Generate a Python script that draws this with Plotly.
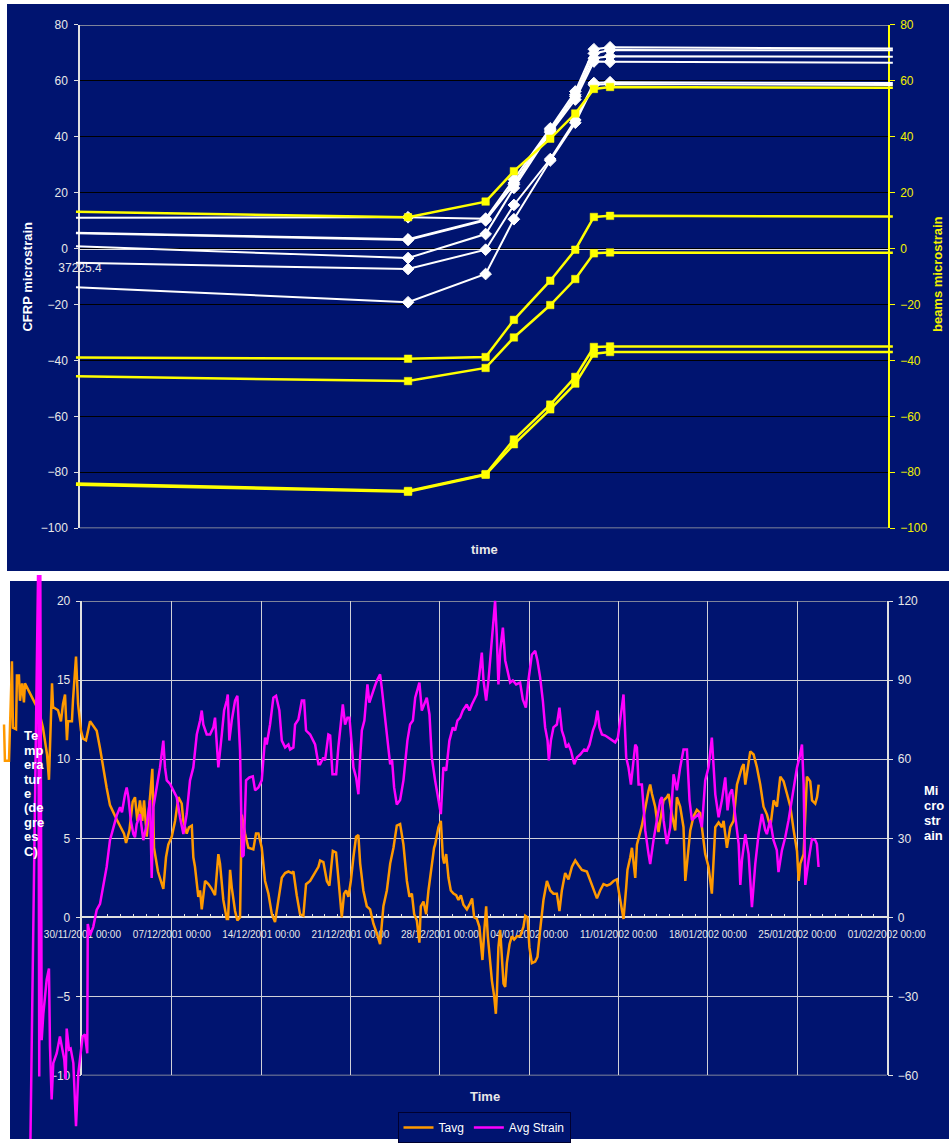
import pandas as pd
import plotly.graph_objects as go

W, H = 949, 1143
NAVY = "#001470"
FONT = "Arial, 'Liberation Sans', sans-serif"

# ---------------- top chart data ----------------
top_time = [37225.395, 37225.806, 37225.902, 37225.937, 37225.982,
            37226.013, 37226.036, 37226.056, 37226.406]
cfrp_a = [11.0, 11.2, 10.7, 24.7, 43.0, 56.2, 71.3, 72.0, 71.6]
cfrp_b = [5.7, 3.3, 10.4, 23.5, 42.5, 55.0, 69.8, 71.0, 70.9]
cfrp_c = [5.5, 3.1, 10.1, 22.9, 42.0, 54.4, 68.1, 68.8, 68.6]
cfrp_d = [0.8, -3.4, 5.2, 21.7, 41.5, 53.3, 66.9, 66.8, 66.5]
cfrp_e = [-5.1, -7.3, -0.4, 15.6, 32.0, 46.0, 59.2, 59.5, 59.2]
cfrp_f = [-13.8, -19.2, -9.1, 10.5, 31.5, 45.0, 58.6, 58.9, 58.5]
beam_1 = [13.2, 11.2, 16.8, 27.7, 39.3, 48.3, 57.1, 57.8, 57.5]
beam_2 = [-39.0, -39.4, -38.8, -25.5, -11.5, -0.4, 11.3, 11.7, 11.5]
beam_3 = [-45.7, -47.4, -42.7, -31.8, -20.2, -10.9, -1.7, -1.4, -1.5]
beam_4 = [-84.0, -86.7, -80.7, -68.3, -55.8, -45.9, -35.2, -35.0, -35.0]
beam_5 = [-84.5, -87.0, -80.9, -70.0, -57.5, -48.3, -37.6, -37.0, -37.0]
top_tick_label = "37225.4"

# ---------------- bottom chart data (days after 30/11/2001 00:00, value) ----------------
start_date = "2001-11-30"
tavg_points = [
    (-6.14, 12.2), (-6.07, 9.9), (-5.75, 9.9), (-5.52, 16.2), (-5.44, 12.0), (-5.20, 11.9),
    (-5.13, 15.3), (-4.97, 15.3), (-4.89, 13.7), (-4.73, 14.8), (-4.58, 13.6), (-4.50, 14.8),
    (-3.56, 13.3), (-3.32, 12.8), (-3.09, 12.0), (-2.77, 10.3), (-2.62, 8.7), (-2.38, 14.8),
    (-2.30, 13.3), (-1.91, 13.1), (-1.68, 12.4), (-1.52, 13.5), (-1.36, 14.1), (-1.21, 11.2),
    (-1.13, 12.4), (-0.82, 12.4), (-0.74, 13.7), (-0.50, 16.5), (-0.34, 13.5), (-0.11, 11.8),
    (0.05, 11.3), (0.28, 11.2), (0.60, 12.4), (0.85, 12.1), (1.12, 11.8), (1.38, 10.7),
    (1.64, 9.3), (1.90, 8.2), (2.16, 7.1), (2.48, 6.5), (2.74, 6.1), (3.00, 5.7), (3.26, 5.3),
    (3.42, 4.7), (3.68, 5.5), (3.94, 7.3), (4.12, 7.6), (4.30, 6.1), (4.51, 7.4), (4.69, 6.1),
    (4.83, 7.4), (5.04, 5.1), (5.22, 6.8), (5.48, 9.4), (5.61, 4.4), (5.92, 2.9), (6.34, 1.8),
    (6.55, 3.8), (6.73, 4.6), (7.00, 5.1), (7.26, 6.1), (7.52, 7.6), (7.78, 7.2), (7.91, 6.1),
    (8.17, 5.3), (8.35, 5.7), (8.57, 5.8), (8.69, 3.8), (8.82, 3.2), (9.08, 1.3), (9.22, 1.7),
    (9.35, 0.5), (9.61, 2.3), (9.87, 2.1), (10.13, 1.8), (10.39, 1.4), (10.65, 4.0), (10.78, 3.4),
    (11.04, 1.1), (11.31, -0.1), (11.41, -0.1), (11.57, 3.0), (11.70, 1.9), (11.96, 0.4),
    (12.14, -0.2), (12.35, 0.0), (12.48, 6.5), (12.74, 5.3), (13.00, 4.4), (13.39, 4.3),
    (13.60, 5.3), (13.79, 5.3), (14.05, 4.4), (14.31, 2.3), (14.57, 1.5), (14.84, 0.2),
    (15.09, -0.3), (15.35, 1.1), (15.62, 2.5), (15.88, 2.8), (16.14, 2.9), (16.40, 2.8),
    (16.53, 2.9), (16.79, 1.4), (17.05, 0.2), (17.31, 0.1), (17.52, 2.1), (17.84, 2.3),
    (18.23, 2.8), (18.49, 3.2), (18.62, 3.6), (18.88, 3.5), (19.15, 2.3), (19.35, 2.0),
    (19.62, 4.2), (19.87, 4.1), (20.05, 2.5), (20.32, 0.0), (20.50, 1.5), (20.66, 1.7),
    (20.84, 1.3), (21.03, 2.3), (21.23, 3.8), (21.44, 5.1), (21.62, 5.2), (21.76, 3.4),
    (22.01, 1.7), (22.28, 0.7), (22.54, 0.5), (22.80, -0.4), (23.06, -1.0), (23.32, -1.7),
    (23.58, 0.7), (23.85, 1.7), (24.11, 3.4), (24.37, 4.4), (24.63, 5.8), (24.89, 5.9),
    (25.15, 4.6), (25.42, 2.3), (25.62, 1.3), (25.81, 1.5), (25.99, 0.2), (26.20, -0.2),
    (26.40, -1.6), (26.51, 0.7), (26.72, 1.0), (26.93, 0.2), (27.11, 1.7), (27.37, 3.4),
    (27.55, 4.4), (27.63, 4.6), (27.89, 5.7), (28.08, 6.1), (28.24, 3.8), (28.34, 3.4),
    (28.50, 4.0), (28.68, 2.5), (28.86, 1.7), (29.07, 1.5), (29.28, 1.4), (29.46, 1.1),
    (29.65, 1.4), (29.85, 0.8), (30.12, 0.5), (30.32, 0.8), (30.53, 1.2), (30.69, 0.0),
    (30.90, -0.1), (31.10, -0.6), (31.24, -1.7), (31.34, -2.7), (31.47, -1.0), (31.63, 0.7),
    (31.76, -1.2), (31.94, -2.7), (32.08, -4.0), (32.26, -5.0), (32.39, -6.1), (32.47, -4.8),
    (32.59, -1.9), (32.73, -0.8), (32.86, -2.9), (32.99, -4.2), (33.12, -4.4), (33.25, -2.9),
    (33.46, -1.7), (33.64, -1.2), (33.82, -1.4), (34.04, -1.2), (34.29, -1.2), (34.55, -0.6),
    (34.69, 0.1), (34.87, 0.0), (35.02, -1.9), (35.21, -2.9), (35.47, -2.8), (35.65, -2.5),
    (35.86, -0.8), (36.12, 1.1), (36.39, 2.3), (36.65, 1.7), (36.90, 1.5), (37.17, 1.5),
    (37.37, 0.4), (37.56, 1.7), (37.82, 2.8), (38.08, 2.4), (38.35, 3.2), (38.61, 3.6),
    (38.86, 3.3), (39.13, 3.0), (39.52, 2.9), (39.78, 2.3), (40.04, 1.7), (40.31, 1.2),
    (40.56, 1.7), (40.82, 2.1), (41.09, 2.0), (41.35, 2.1), (41.61, 2.3), (41.87, 2.4),
    (42.05, 1.5), (42.26, 0.4), (42.39, -0.1), (42.60, 1.9), (42.70, 3.0), (42.92, 3.8),
    (43.05, 4.4), (43.31, 2.5), (43.44, 4.6), (43.83, 5.8), (44.09, 7.0), (44.35, 8.0),
    (44.48, 8.4), (44.62, 7.8), (44.87, 7.0), (45.13, 5.4), (45.40, 6.8), (45.53, 7.4),
    (45.79, 7.6), (45.92, 7.8), (46.18, 6.5), (46.44, 5.5), (46.57, 7.6), (46.83, 7.0),
    (47.09, 5.7), (47.23, 2.3), (47.62, 5.5), (47.75, 5.9), (47.88, 6.4), (48.14, 6.8),
    (48.40, 6.6), (48.53, 5.7), (48.79, 4.0), (49.05, 3.2), (49.31, 1.5), (49.58, 5.7),
    (49.84, 6.0), (50.10, 5.7), (50.23, 6.1), (50.49, 4.4), (50.75, 5.7), (51.01, 6.1),
    (51.28, 8.4), (51.67, 9.5), (51.80, 9.7), (51.93, 8.4), (52.06, 9.1), (52.32, 10.5),
    (52.58, 10.3), (52.84, 9.5), (53.10, 8.4), (53.36, 7.0), (53.63, 6.5), (53.89, 5.7),
    (54.15, 7.4), (54.41, 7.0), (54.67, 8.9), (54.93, 8.6), (55.20, 7.8), (55.46, 7.0),
    (55.72, 5.5), (55.98, 4.2), (56.11, 2.3), (56.24, 3.4), (56.50, 4.0), (56.76, 8.9),
    (57.02, 8.6), (57.16, 7.4), (57.41, 7.2), (57.55, 7.6), (57.68, 8.4),
]
strain_points = [
    (-4.10, -95.0), (-3.46, 135.0), (-3.38, -60.4), (-3.30, 135.0), (-3.19, -46.6),
    (-3.06, -36.6), (-2.80, -23.7), (-2.62, -19.4), (-2.54, -48.9), (-2.41, -69.1),
    (-2.28, -55.3), (-2.01, -51.6), (-1.76, -45.2), (-1.62, -48.9), (-1.42, -54.0),
    (-1.31, -61.5), (-1.23, -42.2), (-1.05, -50.2), (-0.92, -49.8), (-0.71, -55.3),
    (-0.50, -79.3), (-0.32, -59.2), (-0.13, -50.2), (0.02, -45.2), (0.20, -44.4),
    (0.38, -51.6), (0.42, -2.5), (0.60, -6.8), (0.85, -3.6), (1.12, 2.8), (1.38, 5.1),
    (1.64, 11.5), (1.90, 19.1), (2.16, 29.3), (2.42, 34.2), (2.69, 38.7), (2.95, 41.8),
    (3.10, 39.9), (3.34, 46.7), (3.47, 49.3), (3.60, 45.6), (3.79, 36.9), (3.99, 31.6),
    (4.12, 30.4), (4.25, 35.3), (4.51, 39.2), (4.77, 29.3), (5.04, 35.3), (5.30, 44.5),
    (5.43, 14.9), (5.56, 41.8), (5.82, 49.3), (6.08, 56.9), (6.34, 67.1), (6.47, 56.9),
    (6.61, 52.0), (6.87, 50.6), (7.12, 48.2), (7.39, 45.6), (7.65, 38.0), (7.91, 31.6),
    (8.17, 39.2), (8.43, 52.0), (8.69, 56.9), (8.96, 69.4), (9.22, 74.7), (9.35, 78.5),
    (9.47, 73.2), (9.74, 69.4), (10.00, 69.4), (10.26, 72.1), (10.39, 75.8), (10.65, 56.9),
    (10.92, 69.4), (11.10, 78.5), (11.31, 82.3), (11.39, 84.6), (11.51, 67.1), (11.70, 74.7),
    (11.96, 82.3), (12.14, 84.1), (12.35, 63.3), (12.51, 22.9), (12.63, 23.6), (12.82, 52.0),
    (13.08, 53.1), (13.35, 53.5), (13.53, 48.2), (13.79, 49.3), (14.05, 52.0), (14.31, 68.2),
    (14.44, 65.6), (14.70, 73.2), (14.96, 83.4), (15.17, 84.1), (15.43, 78.5), (15.62, 67.1),
    (15.88, 64.5), (16.14, 65.6), (16.27, 63.7), (16.53, 64.5), (16.66, 73.2), (16.92, 75.1),
    (17.19, 82.3), (17.37, 82.3), (17.52, 70.9), (17.84, 69.4), (18.23, 65.6), (18.49, 58.1),
    (18.62, 58.1), (18.88, 60.7), (19.01, 59.6), (19.27, 69.4), (19.41, 69.0), (19.59, 54.3),
    (19.88, 54.3), (20.05, 64.5), (20.40, 80.8), (20.58, 73.2), (20.76, 75.8), (20.92, 75.8),
    (21.10, 65.6), (21.23, 56.9), (21.44, 53.1), (21.62, 46.7), (21.76, 60.7), (21.89, 70.9),
    (22.09, 74.7), (22.33, 88.4), (22.48, 81.5), (22.67, 84.6), (22.93, 88.0), (23.11, 90.3),
    (23.32, 92.2), (23.45, 87.2), (23.64, 78.5), (23.85, 69.4), (24.11, 58.1), (24.26, 59.6),
    (24.42, 49.3), (24.63, 42.8), (24.89, 44.5), (25.15, 52.0), (25.46, 67.1), (25.67, 73.2),
    (25.89, 74.7), (26.07, 83.4), (26.40, 89.1), (26.59, 78.5), (26.77, 80.8), (26.98, 83.4),
    (27.19, 77.0), (27.37, 60.7), (27.63, 52.0), (27.89, 44.5), (28.08, 39.2), (28.28, 56.9),
    (28.50, 55.7), (28.75, 67.1), (29.02, 72.1), (29.20, 70.9), (29.38, 74.7), (29.59, 75.8),
    (29.80, 78.5), (30.11, 80.8), (30.32, 78.5), (30.51, 80.8), (30.69, 82.7), (30.90, 84.6),
    (31.10, 92.2), (31.29, 100.5), (31.42, 89.9), (31.63, 82.3), (31.81, 89.9), (32.00, 100.5),
    (32.15, 110.0), (32.33, 120.1), (32.46, 107.2), (32.59, 88.4), (32.73, 101.2), (32.94, 110.0),
    (33.12, 97.6), (33.38, 91.2), (33.51, 89.1), (33.72, 89.9), (33.98, 88.4), (34.29, 89.1),
    (34.50, 82.7), (34.74, 79.6), (34.94, 89.9), (35.21, 99.7), (35.47, 101.2), (35.65, 97.4),
    (35.86, 91.0), (36.07, 82.3), (36.25, 72.1), (36.44, 67.1), (36.54, 59.6), (36.70, 67.1),
    (36.90, 72.1), (37.17, 73.2), (37.37, 79.6), (37.56, 70.9), (37.74, 68.2), (37.90, 64.5),
    (38.08, 65.6), (38.27, 63.3), (38.53, 58.1), (38.74, 60.7), (39.00, 61.8), (39.31, 63.7),
    (39.52, 63.3), (39.73, 65.6), (39.99, 70.9), (40.17, 73.2), (40.35, 78.5), (40.51, 72.1),
    (40.70, 69.4), (40.96, 69.0), (41.22, 68.2), (41.48, 67.1), (41.74, 66.4), (41.95, 68.2),
    (42.13, 74.7), (42.26, 79.6), (42.39, 84.6), (42.60, 60.7), (42.78, 56.9), (42.97, 50.4),
    (43.17, 60.7), (43.31, 65.6), (43.44, 64.5), (43.57, 50.4), (43.83, 50.4), (44.09, 33.1),
    (44.35, 24.0), (44.48, 20.2), (44.74, 29.3), (45.01, 36.9), (45.27, 44.5), (45.40, 45.6),
    (45.53, 36.9), (45.79, 27.8), (46.05, 34.2), (46.31, 54.3), (46.57, 48.2), (46.83, 56.9),
    (47.09, 63.7), (47.36, 63.7), (47.56, 44.5), (47.75, 36.9), (48.01, 38.0), (48.27, 39.2),
    (48.53, 34.2), (48.79, 52.0), (49.05, 56.9), (49.31, 68.2), (49.58, 46.7), (49.84, 38.0),
    (50.10, 44.5), (50.36, 53.1), (50.54, 40.6), (50.70, 46.7), (50.89, 48.6), (51.15, 38.0),
    (51.41, 27.8), (51.54, 12.3), (51.67, 21.7), (51.93, 31.6), (52.19, 24.0), (52.45, 3.9),
    (52.71, 20.2), (52.97, 31.6), (53.23, 39.2), (53.49, 33.1), (53.62, 31.6), (53.88, 36.9),
    (54.14, 29.3), (54.40, 25.5), (54.53, 17.2), (54.80, 25.5), (55.06, 30.4), (55.32, 36.9),
    (55.58, 44.5), (55.77, 50.5), (55.98, 56.9), (56.18, 60.7), (56.37, 65.6), (56.50, 50.5),
    (56.63, 12.3), (56.89, 21.7), (57.15, 29.7), (57.41, 29.3), (57.54, 27.8), (57.67, 19.1),
]
temp_title_lines = ["Te", "mp", "era", "tur", "e", "(de", "gre", "es", "C)"]
strain_title_lines = ["Mi", "cro", "str", "ain"]

# ---------------- geometry helpers ----------------
def fx(p):
    return p / W


def fy(p):
    return 1 - p / H


def extend(r0, r1, a0, a1, b0, b1):
    s = (r1 - r0) / (a1 - a0)
    return [r0 - (a0 - b0) * s, r1 + (b1 - a1) * s]


# top plot area
T_X = [fx(80), fx(888)]
T_Y = [fy(530), fy(25)]
T_XR = [37225.4, 37226.4]
T_YR = [-100, 80]
T_OX = [fx(70), fx(900)]
top_zero_pos = T_Y[0] + (0 - T_YR[0]) / (T_YR[1] - T_YR[0]) * (T_Y[1] - T_Y[0])

# bottom plot area
B_X = [fx(82.4), fx(886.6)]
B_Y = [fy(1079.2), fy(603.3)]
B_DR = [0, 63]
B_TR = [-10, 20]
B_SR = [-60, 120]
B_OX = [0, 1]
B_OY = [0, fy(577)]
bot_zero_pos = B_Y[0] + (0 - B_TR[0]) / (B_TR[1] - B_TR[0]) * (B_Y[1] - B_Y[0])

tavg_day = [p[0] for p in tavg_points]
tavg_val = [p[1] for p in tavg_points]
strain_day = [p[0] for p in strain_points]
strain_val = [p[1] for p in strain_points]

fig = go.Figure()

# anchors for axis-only subplots
fig.add_trace(go.Scatter(x=[], y=[], xaxis="x", yaxis="y", showlegend=False, hoverinfo="skip"))
fig.add_trace(go.Scatter(x=[], y=[], xaxis="x", yaxis="y2", showlegend=False, hoverinfo="skip"))
fig.add_trace(go.Scatter(x=[], y=[], xaxis="x3", yaxis="y4", showlegend=False, hoverinfo="skip"))
fig.add_trace(go.Scatter(x=[], y=[], xaxis="x3", yaxis="y5", showlegend=False, hoverinfo="skip"))

msize_w = [0] + [9] * (len(top_time) - 2) + [0]
msize_y = [0] + [7.5] * (len(top_time) - 2) + [0]
for s in [cfrp_a, cfrp_b, cfrp_c, cfrp_d, cfrp_e, cfrp_f]:
    fig.add_trace(go.Scatter(
        x=top_time, y=s, xaxis="x2", yaxis="y3", mode="lines+markers",
        line=dict(color="#FFFFFF", width=2),
        marker=dict(symbol="diamond", size=msize_w, color="#FFFFFF", opacity=1,
                    line=dict(width=1, color="#FFFFFF")),
        showlegend=False, hoverinfo="skip"))
for s in [beam_1, beam_2, beam_3, beam_4, beam_5]:
    fig.add_trace(go.Scatter(
        x=top_time, y=s, xaxis="x2", yaxis="y3", mode="lines+markers",
        line=dict(color="#FFFF00", width=2.5),
        marker=dict(symbol="square", size=msize_y, color="#FFFF00", opacity=1,
                    line=dict(width=0.5, color="#FFFF00")),
        showlegend=False, hoverinfo="skip"))

fig.add_trace(go.Scatter(x=tavg_day, y=tavg_val, xaxis="x4", yaxis="y6", mode="lines",
                         line=dict(color="#FF9900", width=2.5), name="Tavg"))
fig.add_trace(go.Scatter(x=strain_day, y=strain_val, xaxis="x4", yaxis="y7", mode="lines",
                         line=dict(color="#FF00FF", width=2.5), name="Avg Strain"))

axis_font = dict(family=FONT, size=12, color="#E8E8E8")
yellow_font = dict(family=FONT, size=12, color="#F2F200")

start_ts = pd.Timestamp(start_date)
end_ts = start_ts + pd.Timedelta(days=B_DR[1])

fig.update_layout(
    template="none",
    width=W, height=H, margin=dict(l=0, r=0, t=0, b=0, pad=0), autosize=False,
    paper_bgcolor="#FFFFFF", plot_bgcolor="rgba(0,0,0,0)",
    font=dict(family=FONT, color="#FFFFFF"),
    # ---- top chart axes ----
    xaxis=dict(domain=T_X, range=T_XR, anchor="free", position=top_zero_pos, automargin=False,
               showline=True, linecolor="#E0E0E0", linewidth=1, showgrid=False, zeroline=False,
               tickmode="array", tickvals=[T_XR[0]], ticktext=[top_tick_label], ticks="",
               tickfont=axis_font, ticklabelstandoff=8),
    yaxis=dict(domain=T_Y, range=T_YR, anchor="x", dtick=20, tick0=0, automargin=False,
               showgrid=True, gridcolor="#000000", gridwidth=1, zeroline=False,
               showline=True, linecolor="#E0E0E0", linewidth=1.5,
               ticks="outside", ticklen=4, tickcolor="#E0E0E0",
               tickfont=axis_font, ticklabelstandoff=4),
    yaxis2=dict(overlaying="y", side="right", anchor="x", range=T_YR, dtick=20, tick0=0,
                automargin=False,
                showgrid=False, zeroline=False, showline=True, linecolor="#FFFF00", linewidth=1.5,
                ticks="outside", ticklen=5, tickcolor="#FFFF00", tickfont=yellow_font,
                ticklabelstandoff=3),
    xaxis2=dict(domain=T_OX, range=extend(T_XR[0], T_XR[1], T_X[0], T_X[1], T_OX[0], T_OX[1]),
                anchor="y3", visible=False, automargin=False),
    yaxis3=dict(domain=T_Y, range=T_YR, anchor="x2", visible=False, automargin=False),
    # ---- bottom chart axes ----
    xaxis3=dict(type="date", domain=B_X, range=[start_ts, end_ts], anchor="free",
                position=bot_zero_pos, automargin=False,
                showline=True, linecolor="#E0E0E0", linewidth=1.5,
                showgrid=True, gridcolor="#D0D0D8", gridwidth=1, zeroline=False,
                tick0=start_date, dtick=7 * 86400000, tickformat="%d/%m/%Y %H:%M",
                ticks="inside", ticklen=3, tickcolor="#E0E0E0",
                tickfont=dict(family=FONT, size=10, color="#E8E8E8"), ticklabelstandoff=8,
                minor=dict(dtick=86400000, ticks="inside", ticklen=3, tickcolor="#E0E0E0",
                           showgrid=False)),
    yaxis4=dict(domain=B_Y, range=B_TR, anchor="x3", dtick=5, tick0=0, automargin=False,
                showgrid=True, gridcolor="#D0D0D8", gridwidth=1, zeroline=False,
                showline=True, linecolor="#E0E0E0", linewidth=1.5,
                ticks="outside", ticklen=5, tickcolor="#E0E0E0",
                tickfont=axis_font, ticklabelstandoff=3),
    yaxis5=dict(overlaying="y4", side="right", anchor="x3", range=B_SR, dtick=30, tick0=0,
                automargin=False,
                showgrid=False, zeroline=False, showline=True, linecolor="#E0E0E0", linewidth=1.5,
                ticks="outside", ticklen=5, tickcolor="#E0E0E0", tickfont=axis_font,
                ticklabelstandoff=2),
    xaxis4=dict(domain=B_OX, range=extend(B_DR[0], B_DR[1], B_X[0], B_X[1], B_OX[0], B_OX[1]),
                anchor="y6", visible=False, automargin=False),
    yaxis6=dict(domain=B_OY, range=extend(B_TR[0], B_TR[1], B_Y[0], B_Y[1], B_OY[0], B_OY[1]),
                anchor="x4", visible=False, automargin=False),
    yaxis7=dict(overlaying="y6", anchor="x4", automargin=False,
                range=extend(B_SR[0], B_SR[1], B_Y[0], B_Y[1], B_OY[0], B_OY[1]), visible=False),
    legend=dict(orientation="h", x=fx(484), xanchor="center", y=fy(1131.5), yanchor="middle",
                bgcolor=NAVY, bordercolor="#000030", borderwidth=1,
                font=dict(family=FONT, size=12, color="#FFFFFF"), itemwidth=30),
)

shapes = [
    dict(type="rect", xref="paper", yref="paper", x0=fx(7), x1=1, y0=fy(573), y1=fy(4),
         fillcolor=NAVY, line=dict(width=0), layer="below"),
    dict(type="rect", xref="paper", yref="paper", x0=fx(10), x1=1, y0=0, y1=fy(583),
         fillcolor=NAVY, line=dict(width=0), layer="below"),
]
for yv in T_YR:
    shapes.append(dict(type="line", xref="x domain", yref="y", x0=0, x1=1, y0=yv, y1=yv,
                       line=dict(color="#A8A8A8", width=1.5), layer="below"))
for yv in B_TR:
    shapes.append(dict(type="line", xref="x3 domain", yref="y4", x0=0, x1=1, y0=yv, y1=yv,
                       line=dict(color="#A8A8A8", width=1.5), layer="below"))
fig.update_layout(shapes=shapes)

ann = [
    dict(text="<b>CFRP microstrain</b>", x=fx(28), y=fy(277.5), textangle=-90,
         font=dict(family=FONT, size=13, color="#FFFFFF")),
    dict(text="<b>beams microstrain</b>", x=fx(937), y=fy(275), textangle=-90,
         font=dict(family=FONT, size=13, color="#F2F200")),
    dict(text="<b>time</b>", x=fx(484), y=fy(551),
         font=dict(family=FONT, size=13, color="#E8E8E8")),
    dict(text="<b>Time</b>", x=fx(484.5), y=fy(1100.5),
         font=dict(family=FONT, size=13, color="#E8E8E8")),
]
for i, t in enumerate(temp_title_lines):
    ann.append(dict(text="<b>" + t + "</b>", x=fx(22), xanchor="left", y=fy(738.3 + 14.5 * i),
                    font=dict(family=FONT, size=13, color="#FFFFFF")))
for i, t in enumerate(strain_title_lines):
    ann.append(dict(text="<b>" + t + "</b>", x=fx(921.5), xanchor="left", y=fy(793.3 + 15 * i),
                    font=dict(family=FONT, size=13, color="#FFFFFF")))
for a in ann:
    a.update(xref="paper", yref="paper", showarrow=False)
    a.setdefault("xanchor", "center")
    a["yanchor"] = "middle"
fig.update_layout(annotations=ann)

fig.write_html(
    "out.html", config={"displayModeBar": False},
    post_script=("document.documentElement.style.margin='0';"
                 "document.body.style.margin='0';"
                 "document.body.style.overflow='hidden';"
                 "document.documentElement.style.overflow='hidden';"
                 "var cs=document.querySelectorAll('.svg-container, .plotly-graph-div');"
                 "for(var i=0;i<cs.length;i++){cs[i].style.display='block';"
                 "cs[i].style.verticalAlign='top';}"))
